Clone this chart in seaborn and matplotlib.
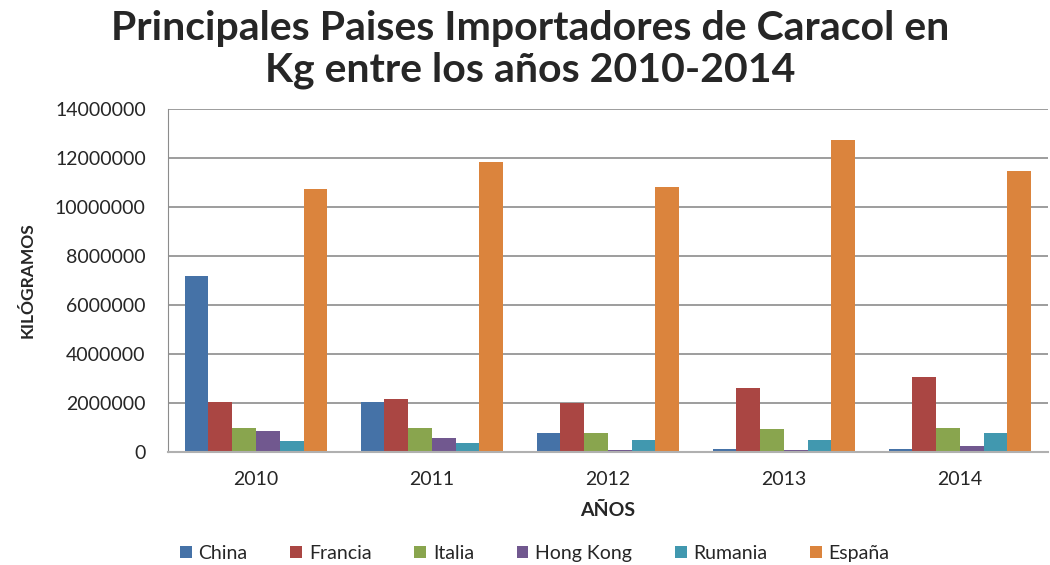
import numpy as np
import pandas as pd
import matplotlib
matplotlib.use('Agg')
import matplotlib.pyplot as plt
import seaborn as sns

years = ['2010', '2011', '2012', '2013', '2014']
countries = ['China', 'Francia', 'Italia', 'Hong Kong', 'Rumania', 'España']
china = [7200000, 2050000, 760000, 130000, 130000]
francia = [2050000, 2160000, 2000000, 2600000, 3070000]
italia = [980000, 980000, 760000, 940000, 980000]
hong_kong = [870000, 570000, 100000, 100000, 250000]
rumania = [460000, 370000, 500000, 500000, 790000]
espana = [10720000, 11820000, 10800000, 12720000, 11460000]
colors = ['#4572A7', '#AA4643', '#89A54E', '#71588F', '#4198AF', '#DB843D']

series = [china, francia, italia, hong_kong, rumania, espana]
rows = []
for name, vals in zip(countries, series):
    for y, v in zip(years, vals):
        rows.append({'year': y, 'country': name, 'kg': v})
df = pd.DataFrame(rows)

sns.set_style('white')
plt.rcParams['font.family'] = ['Lato', 'DejaVu Sans']

fig = plt.figure(figsize=(10.5, 5.65), dpi=100)
ax = fig.add_axes([0.16, 0.2, 0.838, 0.607])

sns.barplot(data=df, x='year', y='kg', hue='country', hue_order=countries,
            palette=colors, width=0.81, linewidth=0, saturation=1, ax=ax)

ax.set_ylim(0, 14000000)
ticks = np.arange(0, 14000001, 2000000)
ax.set_yticks(ticks)
ax.set_yticklabels([str(int(t)) for t in ticks], fontsize=14)
ax.yaxis.grid(True, color='#8c8c8c', linewidth=1.2)
ax.set_axisbelow(True)
for s in ['top', 'right']:
    ax.spines[s].set_visible(False)
ax.spines['left'].set_color('#8c8c8c')
ax.spines['bottom'].set_color('#b0b0b0')
ax.spines['bottom'].set_linewidth(1.5)
ax.tick_params(axis='y', length=0, pad=16)
ax.tick_params(axis='x', labelsize=14, length=0, pad=14)

ax.set_xlabel('AÑOS', fontsize=14, fontweight='bold', labelpad=10)
ax.set_ylabel('KILÓGRAMOS', fontsize=12.5, fontweight='bold', labelpad=14)

ax.legend(loc='center', bbox_to_anchor=(0.417, -0.295), ncol=6, frameon=False,
          fontsize=14, handlelength=0.6, handleheight=0.6, handletextpad=0.35,
          columnspacing=2.2)

fig.text(0.505, 0.912, 'Principales Paises Importadores de Caracol en\nKg entre los años 2010-2014',
         ha='center', va='center', fontsize=29.5, fontweight='bold', linespacing=1.15)

fig.savefig('out.png', dpi=100)
